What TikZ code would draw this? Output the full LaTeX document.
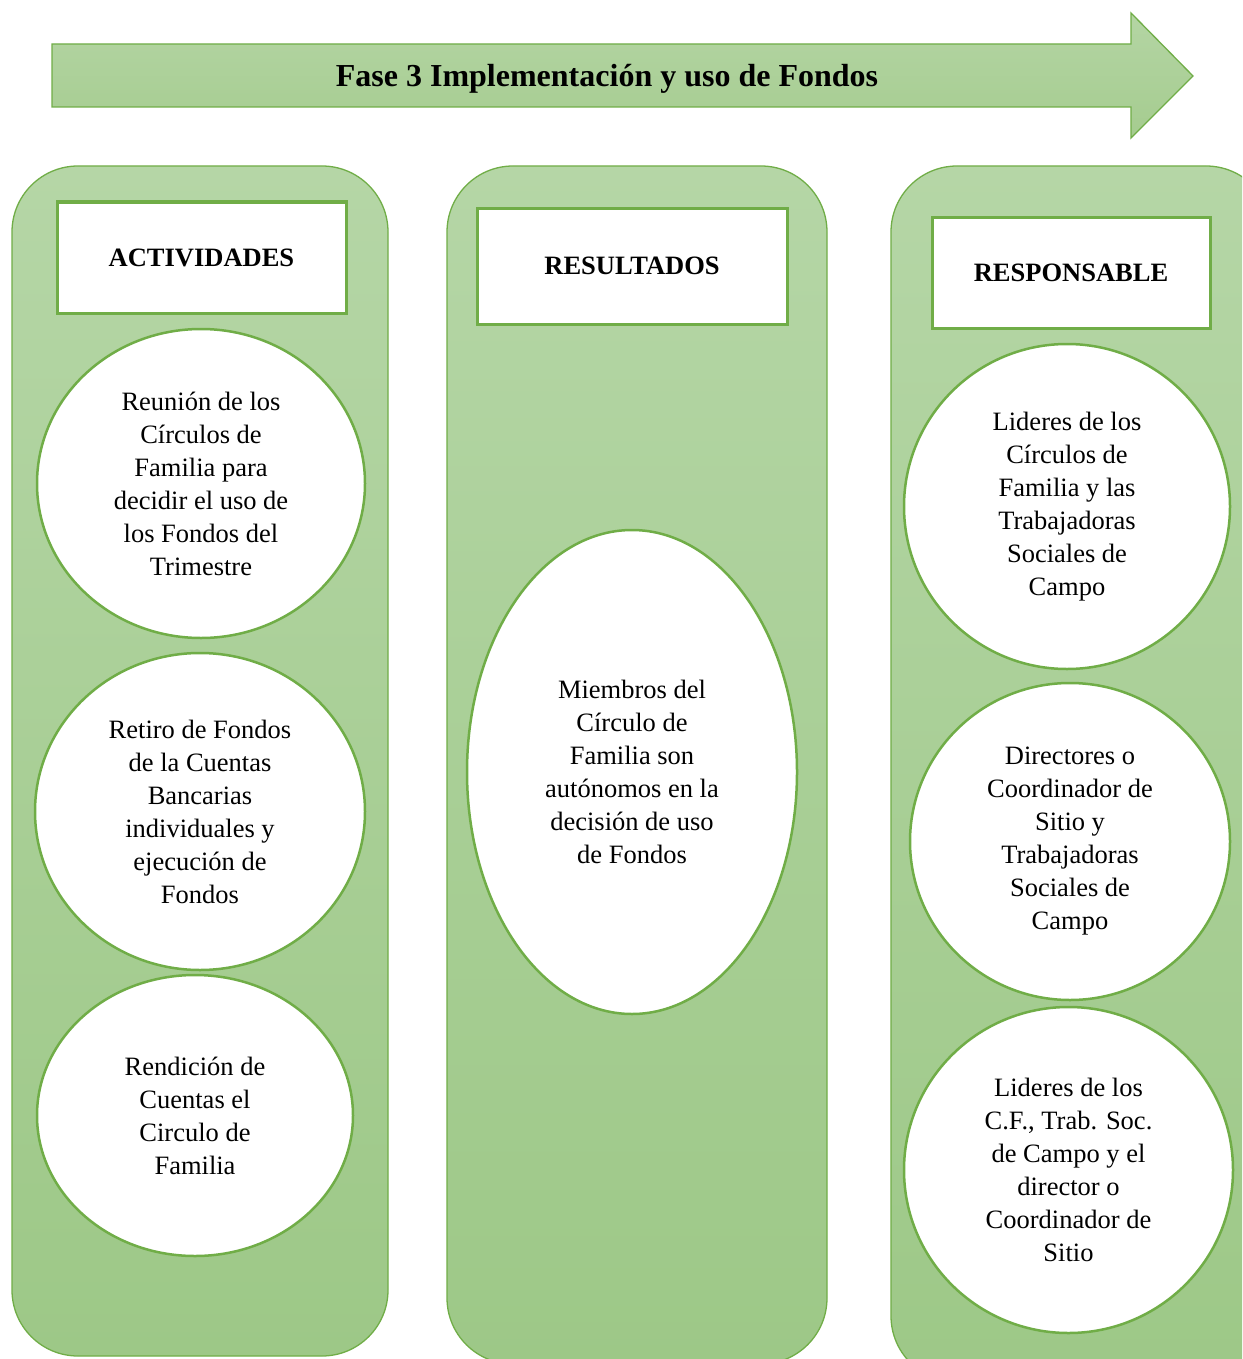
\documentclass[tikz,border=0pt]{standalone}
\usepackage{fontspec}
\setmainfont{Liberation Serif}
\usetikzlibrary{shapes.geometric}
\definecolor{gborder}{RGB}{112,173,71}
\definecolor{gtop}{RGB}{181,214,166}
\definecolor{gbot}{RGB}{157,200,135}
\definecolor{atop}{RGB}{180,213,164}
\definecolor{abot}{RGB}{165,204,143}
\tikzset{
  column/.style={top color=gtop, bottom color=gbot, draw=gborder, line width=1.3pt, rounded corners=66pt},
  headbox/.style={draw=gborder, fill=white, line width=3pt, inner sep=0pt, font=\fontsize{26.5}{33}\selectfont\bfseries},
  bubble/.style={ellipse, draw=gborder, fill=white, line width=2.5pt, inner sep=0pt, align=center, font=\fontsize{26.5}{33}\selectfont},
}
\begin{document}
\begin{tikzpicture}[x=1pt,y=-1pt]
\useasboundingbox (0,0) rectangle (1242,1359);
\clip (0,0) rectangle (1242,1359);
% arrow
\shade[top color=atop, bottom color=abot, draw=gborder, line width=1.3pt]
  (52,44) -- (1131,44) -- (1131,13) -- (1193,76) -- (1131,138) -- (1131,107) -- (52,107) -- cycle;
\node[font=\fontsize{32}{38}\selectfont\bfseries] (title) at (607,78.5) {Fase 3 Implementación y uso de Fondos};
% columns
\shade[column] (12,166) rectangle (388,1356);
\shade[column] (447,166) rectangle (827,1364);
\shade[column] (891,166) rectangle (1272,1382);
% headers
\node[headbox, minimum width=289pt, minimum height=111pt] (h1) at (201.5,257.5) {ACTIVIDADES};
\node[headbox, minimum width=310pt, minimum height=116pt] (h2) at (632,266) {RESULTADOS};
\node[headbox, minimum width=278pt, minimum height=111pt] (h3) at (1071,273) {RESPONSABLE};
% column 1
\node[bubble, minimum width=328pt, minimum height=309pt] (a1) at (201,483.5)
  {Reunión de los\\Círculos de\\Familia para\\decidir el uso de\\los Fondos del\\Trimestre};
\node[bubble, minimum width=330pt, minimum height=317pt] (a2) at (200,811.5)
  {Retiro de Fondos\\de la Cuentas\\Bancarias\\individuales y\\ejecución de\\Fondos};
\node[bubble, minimum width=316pt, minimum height=281pt] (a3) at (195,1115.5)
  {Rendición de\\Cuentas el\\Circulo de\\Familia};
% column 2
\node[bubble, minimum width=330pt, minimum height=484pt] (b1) at (632,772)
  {Miembros del\\Círculo de\\Familia son\\autónomos en la\\decisión de uso\\de Fondos};
% column 3
\node[bubble, minimum width=326pt, minimum height=325pt] (c1) at (1067,506.5)
  {Lideres de los\\Círculos de\\Familia y las\\Trabajadoras\\Sociales de\\Campo};
\node[bubble, minimum width=320pt, minimum height=317pt] (c2) at (1070,841.5)
  {Directores o\\Coordinador de\\Sitio y\\Trabajadoras\\Sociales de\\Campo};
\node[bubble, minimum width=329pt, minimum height=326pt] (c3) at (1068.5,1170)
  {Lideres de los\\C.F., Trab. Soc.\\de Campo y el\\director o\\Coordinador de\\Sitio};
\end{tikzpicture}
\end{document}
